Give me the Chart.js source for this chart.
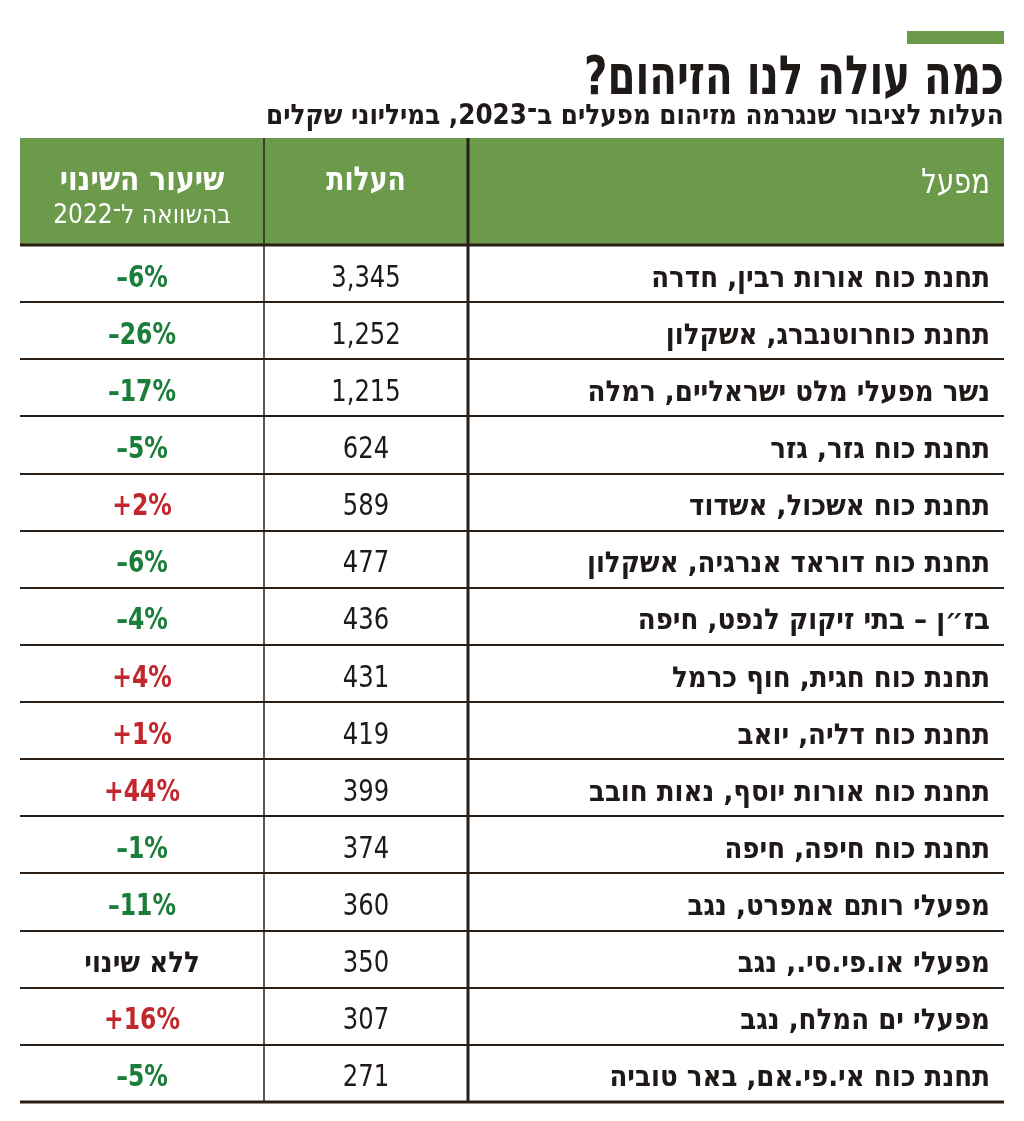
<!DOCTYPE html>
<html lang="he">
<head>
<meta charset="utf-8">
<script src="https://cdn.jsdelivr.net/npm/chart.js@4"></script>
<style>
    html, body { margin: 0; padding: 0; background: #fff; }
    #wrap { position: relative; width: 1024px; height: 1121px; overflow: hidden; }
    #chart { position: absolute; left: 0; top: 0; }
    .bar { position: absolute; left: 907px; top: 31px; width: 97px; height: 13px; background: #6b9a4b; }
    h1, h2 {
        position: absolute; right: 20px; margin: 0; direction: rtl; text-align: right;
        font-family: "DejaVu Sans Condensed", "DejaVu Sans", sans-serif; font-weight: bold; color: #1f1a17;
        white-space: nowrap; transform-origin: right center;
    }
    h1 { top: 49px; font-size: 54px; line-height: 54px; transform: scaleX(0.83); }
    h2 { top: 101px; font-size: 28px; line-height: 28px; transform: scaleX(0.98); }
</style>
</head>
<body>
<div id="wrap">
    <canvas id="chart" width="1024" height="1121"></canvas>
    <div class="bar"></div>
    <h1>כמה עולה לנו הזיהום?</h1>
    <h2>העלות לציבור שנגרמה מזיהום מפעלים ב־2023, במיליוני שקלים</h2>
</div>
<script>
const plants = [
    "תחנת כוח אורות רבין, חדרה",
    "תחנת כוחרוטנברג, אשקלון",
    "נשר מפעלי מלט ישראליים, רמלה",
    "תחנת כוח גזר, גזר",
    "תחנת כוח אשכול, אשדוד",
    "תחנת כוח דוראד אנרגיה, אשקלון",
    "בז\u05F4ן – בתי זיקוק לנפט, חיפה",
    "תחנת כוח חגית, חוף כרמל",
    "תחנת כוח דליה, יואב",
    "תחנת כוח אורות יוסף, נאות חובב",
    "תחנת כוח חיפה, חיפה",
    "מפעלי רותם אמפרט, נגב",
    "מפעלי או.פי.סי., נגב",
    "מפעלי ים המלח, נגב",
    "תחנת כוח אי.פי.אם, באר טוביה",
];
const costs = [3345, 1252, 1215, 624, 589, 477, 436, 431, 419, 399, 374, 360, 350, 307, 271];
const changes = [-6, -26, -17, -5, 2, -6, -4, 4, 1, 44, -1, -11, 0, 16, -5];

const colHeaders = ["שיעור השינוי", "העלות", "מפעל"];
const colSubHeader = "בהשוואה ל־2022";
const noChangeLabel = "ללא שינוי";

// column edges in table units (left to right)
const COLS = [0, 244, 448, 984];
const HEADER_H = 107;
const FONT = '"DejaVu Sans Condensed", "DejaVu Sans", sans-serif';
const INK = "#1f1a17";
const LINE = "#2a1f17";
const GREEN_BG = "#6b9a4b";
const GREEN_TXT = "#1b7d3a";
const RED_TXT = "#c1272d";

function fmt(n) {
    return n.toLocaleString("en-US");
}

function fmtChange(v) {
    if (v === 0) return noChangeLabel;
    return (v > 0 ? "+" : "\u2013") + Math.abs(v) + "%";
}

// canvas has no bidi in ltr mode here, so hebrew goes out as rtl
function drawText(ctx, text, x, y, font, align, color, dir, sx = 1) {
    ctx.save();
    ctx.translate(x, y);
    ctx.scale(sx, 1);
    ctx.font = font;
    ctx.fillStyle = color;
    ctx.direction = dir;
    ctx.textAlign = align;
    ctx.textBaseline = "alphabetic";
    ctx.fillText(text, 0, 0);
    ctx.restore();
}

const tablePlugin = {
    id: "table",
    afterDraw(chart) {
        const { ctx, chartArea } = chart;
        const x = chart.scales.x;
        const y = chart.scales.y;
        const band = y.getPixelForValue(1) - y.getPixelForValue(0);
        const left = x.getPixelForValue(COLS[0]);
        const div1 = x.getPixelForValue(COLS[1]);
        const div2 = x.getPixelForValue(COLS[2]);
        const right = x.getPixelForValue(COLS[3]);
        const cChange = (left + div1) / 2;
        const cCost = (div1 + div2) / 2;
        const headTop = chartArea.top - HEADER_H;

        ctx.save();

        // header band
        ctx.fillStyle = GREEN_BG;
        ctx.fillRect(left, headTop, right - left, HEADER_H);
        drawText(ctx, colHeaders[2], right - 14, headTop + 55, `34px ${FONT}`, "right", "#fff", "rtl", 0.9);
        drawText(ctx, colHeaders[1], cCost, headTop + 52, `bold 33px ${FONT}`, "center", "#fff", "rtl", 0.9);
        drawText(ctx, colHeaders[0], cChange, headTop + 52, `bold 33px ${FONT}`, "center", "#fff", "rtl", 0.95);
        drawText(ctx, colSubHeader, cChange, headTop + 85, `26px ${FONT}`, "center", "#fff", "rtl");

        // body text
        plants.forEach((name, i) => {
            const base = y.getPixelForValue(i) + 13;
            drawText(ctx, name, right - 14, base, `bold 29px ${FONT}`, "right", INK, "rtl");
            drawText(ctx, fmt(costs[i]), cCost, base, `30px ${FONT}`, "center", INK, "ltr", 0.9);
            const v = changes[i];
            if (v === 0) {
                drawText(ctx, fmtChange(v), cChange, base, `bold 29px ${FONT}`, "center", INK, "rtl");
            } else {
                drawText(ctx, fmtChange(v), cChange, base, `bold 30px ${FONT}`, "center", v > 0 ? RED_TXT : GREEN_TXT, "ltr", 0.87);
            }
        });

        // row lines
        ctx.strokeStyle = LINE;
        ctx.lineWidth = 2;
        for (let i = 0; i < plants.length - 1; i++) {
            const ly = Math.round(y.getPixelForValue(i) + band / 2);
            ctx.beginPath();
            ctx.moveTo(left, ly);
            ctx.lineTo(right, ly);
            ctx.stroke();
        }
        ctx.lineWidth = 3;
        ctx.beginPath();
        ctx.moveTo(left, chartArea.top);
        ctx.lineTo(right, chartArea.top);
        ctx.moveTo(left, chartArea.bottom);
        ctx.lineTo(right, chartArea.bottom);
        ctx.stroke();

        // column dividers
        ctx.lineWidth = 1.5;
        ctx.beginPath();
        ctx.moveTo(div1, headTop);
        ctx.lineTo(div1, chartArea.bottom);
        ctx.stroke();
        ctx.lineWidth = 3;
        ctx.beginPath();
        ctx.moveTo(div2, headTop);
        ctx.lineTo(div2, chartArea.bottom);
        ctx.stroke();
        ctx.restore();
    },
};

new Chart(document.getElementById("chart"), {
    type: "bar",
    data: {
        labels: plants,
        datasets: [],
    },
    options: {
        indexAxis: "y",
        responsive: false,
        animation: false,
        layout: {
            padding: { left: 20, right: 20, top: 245, bottom: 19 },
        },
        plugins: {
            legend: { display: false },
            tooltip: { enabled: false },
        },
        scales: {
            x: { type: "linear", min: COLS[0], max: COLS[3], offset: false, display: false },
            y: { type: "category", offset: true, display: false },
        },
    },
    plugins: [tablePlugin],
});
</script>
</body>
</html>
